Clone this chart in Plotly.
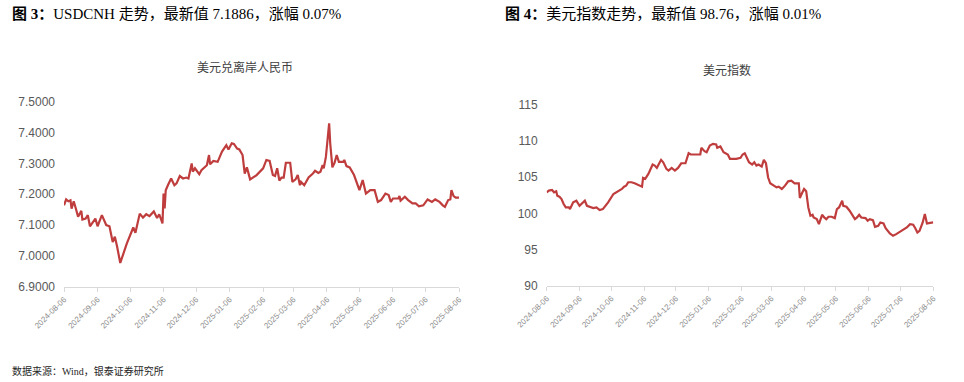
import plotly.graph_objects as go

# ---------------- data ----------------
cnh_dates = [
    "2024-08-06","2024-08-08","2024-08-10","2024-08-12","2024-08-13","2024-08-15","2024-08-17","2024-08-19",
    "2024-08-22","2024-08-23","2024-08-26","2024-08-28","2024-08-30","2024-09-04","2024-09-06","2024-09-10",
    "2024-09-14","2024-09-17","2024-09-20","2024-09-22","2024-09-24","2024-09-27","2024-10-03","2024-10-09",
    "2024-10-11","2024-10-15","2024-10-18","2024-10-21","2024-10-24","2024-10-28","2024-10-31","2024-11-02",
    "2024-11-05","2024-11-06","2024-11-07","2024-11-08","2024-11-10","2024-11-13","2024-11-16","2024-11-18",
    "2024-11-21","2024-11-24","2024-11-27","2024-11-29","2024-12-02","2024-12-03","2024-12-05","2024-12-09",
    "2024-12-11","2024-12-14","2024-12-16","2024-12-18","2024-12-19","2024-12-22","2024-12-26","2024-12-30",
    "2025-01-03","2025-01-05","2025-01-08","2025-01-10","2025-01-13","2025-01-15","2025-01-18","2025-01-20",
    "2025-01-22","2025-01-25","2025-01-31","2025-02-06","2025-02-09","2025-02-12","2025-02-15","2025-02-17",
    "2025-02-19","2025-02-21","2025-02-23","2025-02-25","2025-02-27","2025-03-03","2025-03-05","2025-03-08",
    "2025-03-10","2025-03-12","2025-03-13","2025-03-16","2025-03-20","2025-03-24","2025-03-26","2025-03-29",
    "2025-03-31","2025-04-02","2025-04-03","2025-04-05","2025-04-06","2025-04-08","2025-04-09","2025-04-11",
    "2025-04-13","2025-04-15","2025-04-17","2025-04-21","2025-04-22","2025-04-24","2025-04-27","2025-05-01",
    "2025-05-06","2025-05-09","2025-05-12","2025-05-16","2025-05-20","2025-05-23","2025-05-26","2025-05-30",
    "2025-06-02","2025-06-04","2025-06-06","2025-06-11","2025-06-12","2025-06-13","2025-06-17","2025-06-20",
    "2025-06-24","2025-06-27","2025-06-30","2025-07-04","2025-07-08","2025-07-12","2025-07-15","2025-07-19",
    "2025-07-22","2025-07-24","2025-07-27","2025-07-29","2025-07-30","2025-08-01","2025-08-03","2025-08-06",
]
cnh_values = [
    7.164,7.183,7.177,7.180,7.153,7.177,7.153,7.127,
    7.146,7.118,7.121,7.132,7.096,7.121,7.096,7.132,
    7.100,7.096,7.045,7.062,7.031,6.977,7.040,7.092,
    7.075,7.137,7.124,7.135,7.129,7.144,7.123,7.135,
    7.105,7.202,7.154,7.213,7.229,7.251,7.229,7.235,
    7.259,7.251,7.254,7.251,7.300,7.273,7.284,7.265,
    7.278,7.289,7.294,7.327,7.297,7.308,7.305,7.338,
    7.359,7.345,7.365,7.363,7.348,7.345,7.327,7.267,
    7.287,7.248,7.262,7.284,7.311,7.308,7.262,7.259,
    7.284,7.244,7.254,7.254,7.302,7.302,7.240,7.248,
    7.262,7.229,7.240,7.229,7.254,7.267,7.276,7.269,
    7.273,7.294,7.284,7.321,7.365,7.430,7.365,7.287,
    7.302,7.327,7.305,7.305,7.311,7.291,7.287,7.262,
    7.213,7.246,7.202,7.213,7.213,7.175,7.181,7.202,
    7.197,7.175,7.186,7.186,7.194,7.179,7.192,7.181,
    7.170,7.170,7.161,7.164,7.183,7.175,7.183,7.175,
    7.164,7.159,7.181,7.183,7.213,7.194,7.189,7.1886,
]

dxy_dates = [
    "2024-08-06","2024-08-08","2024-08-11","2024-08-13","2024-08-15","2024-08-16","2024-08-18","2024-08-20",
    "2024-08-22","2024-08-24","2024-08-27","2024-08-28","2024-08-31","2024-09-03","2024-09-06","2024-09-08",
    "2024-09-11","2024-09-13","2024-09-16","2024-09-19","2024-09-22","2024-09-24","2024-09-25","2024-09-28",
    "2024-10-03","2024-10-08","2024-10-13","2024-10-16","2024-10-18","2024-10-20","2024-10-22","2024-10-25",
    "2024-10-28","2024-10-31","2024-11-04","2024-11-05","2024-11-07","2024-11-10","2024-11-14","2024-11-16",
    "2024-11-18","2024-11-22","2024-11-24","2024-11-27","2024-11-29","2024-12-02","2024-12-05","2024-12-08",
    "2024-12-11","2024-12-15","2024-12-18","2024-12-20","2024-12-24","2024-12-29","2024-12-30","2025-01-02",
    "2025-01-04","2025-01-07","2025-01-10","2025-01-13","2025-01-14","2025-01-17","2025-01-20","2025-01-24",
    "2025-01-26","2025-02-01","2025-02-05","2025-02-07","2025-02-09","2025-02-11","2025-02-13","2025-02-16",
    "2025-02-18","2025-02-20","2025-02-22","2025-02-25","2025-02-27","2025-03-01","2025-03-03","2025-03-05",
    "2025-03-08","2025-03-11","2025-03-13","2025-03-16","2025-03-19","2025-03-22","2025-03-25","2025-03-28",
    "2025-04-01","2025-04-02","2025-04-04","2025-04-06","2025-04-08","2025-04-10","2025-04-12","2025-04-14",
    "2025-04-15","2025-04-18","2025-04-20","2025-04-23","2025-04-25","2025-04-27","2025-04-29","2025-05-02",
    "2025-05-05","2025-05-07","2025-05-09","2025-05-12","2025-05-13","2025-05-16","2025-05-19","2025-05-22",
    "2025-05-24","2025-05-26","2025-05-28","2025-05-30","2025-06-03","2025-06-05","2025-06-07","2025-06-10",
    "2025-06-12","2025-06-15","2025-06-17","2025-06-20","2025-06-22","2025-06-26","2025-06-29","2025-07-02",
    "2025-07-06","2025-07-09","2025-07-12","2025-07-15","2025-07-18","2025-07-20","2025-07-22","2025-07-24",
    "2025-07-27","2025-07-29","2025-07-31","2025-08-03","2025-08-06",
]
dxy_values = [
    102.92,103.15,103.24,102.92,103.06,102.45,102.31,101.99,
    101.30,100.83,100.83,100.60,101.53,101.76,101.06,101.30,
    101.76,101.06,100.93,100.74,100.83,100.60,100.46,100.60,
    101.53,102.69,103.06,103.38,103.70,103.84,104.31,104.31,
    104.17,103.98,103.70,104.91,104.77,105.46,106.76,106.62,
    106.30,107.41,107.08,106.16,105.93,106.30,105.93,106.30,
    106.94,106.94,108.33,108.15,108.15,108.15,109.07,108.61,
    108.47,109.40,109.63,109.54,109.07,109.26,108.47,108.15,
    107.55,107.55,107.69,108.15,108.33,107.78,107.08,106.76,
    107.08,106.62,106.76,106.48,107.41,106.94,105.00,104.17,
    103.84,103.61,103.70,103.38,103.84,104.44,104.54,104.17,
    104.17,102.13,102.78,103.38,103.06,100.83,99.68,99.81,
    99.44,99.21,98.52,99.81,99.44,99.21,99.54,99.54,
    99.35,100.60,100.83,101.76,101.06,100.93,100.37,99.68,
    99.21,99.44,99.81,99.44,99.35,98.98,99.21,99.07,
    98.15,98.29,98.75,98.61,97.96,97.22,96.90,97.13,
    97.50,97.69,98.06,98.52,98.43,97.96,97.36,97.59,
    98.75,99.91,98.61,98.70,98.76,
]

month_ticks = [
    "2024-08-06","2024-09-06","2024-10-06","2024-11-06","2024-12-06","2025-01-06","2025-02-06",
    "2025-03-06","2025-04-06","2025-05-06","2025-06-06","2025-07-06","2025-08-06",
]
cnh_yticks = [6.9, 7.0, 7.1, 7.2, 7.3, 7.4, 7.5]
dxy_yticks = [90, 95, 100, 105, 110, 115]

heading_left = "<b>图 3：</b>USDCNH 走势，最新值 7.1886，涨幅 0.07%"
heading_right = "<b>图 4：</b>美元指数走势，最新值 98.76，涨幅 0.01%"
title_left = "美元兑离岸人民币"
title_right = "美元指数"
source_text = "数据来源：Wind，银泰证券研究所"

# ---------------- figure ----------------
W, H = 964, 382
LINE = "#BF3D3D"
TICKC = "#595959"
AXC = "#D9D9D9"
SERIF = "Liberation Serif, Noto Sans CJK SC, serif"
SANS = "Liberation Sans, Noto Sans CJK SC, sans-serif"

fig = go.Figure()
fig.add_trace(go.Scatter(x=cnh_dates, y=cnh_values, mode="lines",
                         line=dict(color=LINE, width=2.2), xaxis="x", yaxis="y",
                         showlegend=False, hoverinfo="x+y"))
fig.add_trace(go.Scatter(x=dxy_dates, y=dxy_values, mode="lines",
                         line=dict(color=LINE, width=2.2), xaxis="x2", yaxis="y2",
                         showlegend=False, hoverinfo="x+y"))

def px_x(p):
    return p / W

def px_y(p):
    return 1 - p / H

xcommon = dict(type="date", tickmode="array", tickvals=month_ticks, ticktext=month_ticks,
               tickangle=-45, tickfont=dict(family=SANS, size=8, color="#8C8C8C"),
               showline=True, linecolor=AXC, linewidth=1, ticks="outside", ticklen=4,
               tickcolor=AXC, showgrid=False, zeroline=False, fixedrange=True,
               automargin=False)

fig.update_layout(
    width=W, height=H, margin=dict(l=0, r=0, t=0, b=0, autoexpand=False),
    paper_bgcolor="white", plot_bgcolor="white",
    xaxis=dict(domain=[px_x(64), px_x(459)], range=["2024-08-06", "2025-08-06"],
               anchor="y", **xcommon),
    yaxis=dict(domain=[px_y(286.7), px_y(101.7)], range=[6.9, 7.5], tickmode="array",
               tickvals=cnh_yticks, tickformat=".4f", showgrid=False, zeroline=False,
               showline=False, tickfont=dict(family=SANS, size=12, color=TICKC),
               ticklabelstandoff=8, anchor="x", automargin=False),
    xaxis2=dict(domain=[px_x(546.7), px_x(933.3)], range=["2024-08-06", "2025-08-06"],
                anchor="y2", **xcommon),
    yaxis2=dict(domain=[px_y(285.7), px_y(105)], range=[90, 115], tickmode="array",
                tickvals=dxy_yticks, showgrid=False, zeroline=False, showline=False,
                tickfont=dict(family=SANS, size=12, color=TICKC),
                ticklabelstandoff=8, anchor="x2", automargin=False),
)

annos = [
    dict(text=heading_left, x=px_x(10), y=px_y(14), xanchor="left", yanchor="middle",
         font=dict(family=SERIF, size=15, color="black")),
    dict(text=heading_right, x=px_x(503), y=px_y(14), xanchor="left", yanchor="middle",
         font=dict(family=SERIF, size=15, color="black")),
    dict(text=title_left, x=px_x(245), y=px_y(67), xanchor="center", yanchor="middle",
         font=dict(family=SERIF, size=12, color="#404040")),
    dict(text=title_right, x=px_x(727), y=px_y(70), xanchor="center", yanchor="middle",
         font=dict(family=SERIF, size=12, color="#404040")),
    dict(text=source_text, x=px_x(10), y=px_y(371), xanchor="left", yanchor="middle",
         font=dict(family=SERIF, size=10, color="#262626")),
]
for a in annos:
    fig.add_annotation(xref="paper", yref="paper", showarrow=False, **a)

fig.write_html("out.html", config={"displayModeBar": False},
               post_script="document.body.style.margin='0';document.body.style.overflow='hidden';")
